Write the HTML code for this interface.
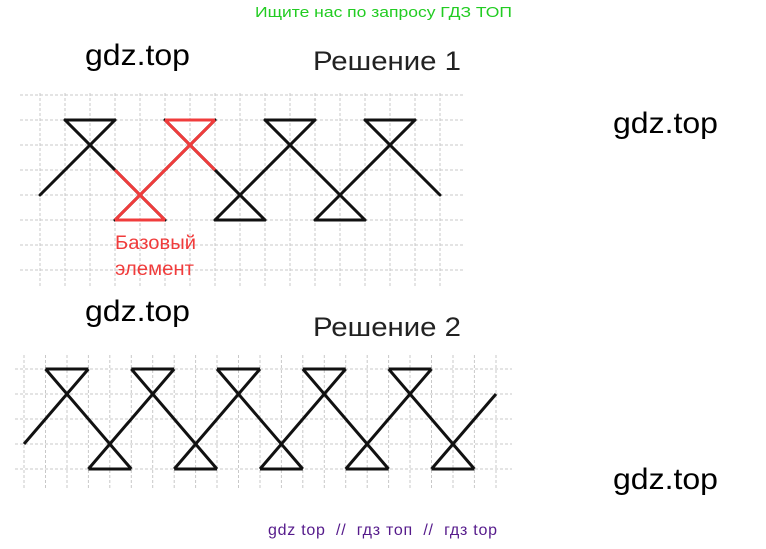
<!DOCTYPE html><html><head><meta charset="utf-8"><style>
body{margin:0;width:766px;height:544px;background:#fff;overflow:hidden}
</style></head><body>
<svg width="766" height="544" xmlns="http://www.w3.org/2000/svg" font-family="Liberation Sans, DejaVu Sans, sans-serif">
<text x="255" y="17" font-size="15" fill="#22cc22" textLength="257" lengthAdjust="spacingAndGlyphs">Ищите нас по запросу ГДЗ ТОП</text>
<text x="85" y="65" font-size="30" fill="#000" textLength="105" lengthAdjust="spacingAndGlyphs">gdz.top</text>
<text x="313" y="70" font-size="27" fill="#222" textLength="148" lengthAdjust="spacingAndGlyphs">Решение 1</text>
<text x="613" y="133" font-size="30" fill="#000" textLength="105" lengthAdjust="spacingAndGlyphs">gdz.top</text>
<text x="85" y="321" font-size="30" fill="#000" textLength="105" lengthAdjust="spacingAndGlyphs">gdz.top</text>
<text x="313" y="336" font-size="27" fill="#222" textLength="148" lengthAdjust="spacingAndGlyphs">Решение 2</text>
<text x="613" y="489" font-size="30" fill="#000" textLength="105" lengthAdjust="spacingAndGlyphs">gdz.top</text>
<text x="268" y="535" font-size="16" fill="#551a8b" textLength="229" lengthAdjust="spacing" xml:space="preserve">gdz top  //  гдз топ  //  гдз top</text>
<g stroke="#c8c8c8" stroke-width="1" stroke-dasharray="3,2">
<path d="M20 95H463M20 120H463M20 145H463M20 170H463M20 195H463M20 220H463M20 245H463M20 270H463"/>
<path d="M40 93V288M65 93V288M90 93V288M115 93V288M140 93V288M165 93V288M190 93V288M215 93V288M240 93V288M265 93V288M290 93V288M315 93V288M340 93V288M365 93V288M390 93V288M415 93V288M440 93V288"/>
<path d="M15 369H512M15 394H512M15 419H512M15 444H512M15 469H512"/>
<path d="M24 355V490M45.5 355V490M67 355V490M88.4 355V490M109.8 355V490M131.3 355V490M152.7 355V490M174.2 355V490M195.6 355V490M217 355V490M238.5 355V490M260 355V490M281.4 355V490M302.8 355V490M324.3 355V490M345.7 355V490M367.2 355V490M388.6 355V490M410 355V490M431.5 355V490M453 355V490M474.4 355V490M496 355V490"/>
</g>
<g stroke="#111" stroke-width="3" fill="none" stroke-linecap="round">
<path d="M40 195L115 120M65 120L165 220M115 220L215 120M165 120L265 220M215 220L315 120M265 120L365 220M315 220L415 120M365 120L440 195"/>
<path d="M65 120H115M165 120H215M265 120H315M365 120H415M115 220H165M215 220H265M315 220H365"/>
</g>
<g stroke="#f03c3c" stroke-width="3" fill="none">
<path d="M115 170L165 220M115 220L215 120M165 120L215 170M165 120H215M115 220H165"/>
</g>
<text x="115" y="249" font-size="19" fill="#f03c3c" textLength="81" lengthAdjust="spacingAndGlyphs">Базовый</text>
<text x="115" y="275" font-size="19" fill="#f03c3c" textLength="79" lengthAdjust="spacingAndGlyphs">элемент</text>
<g stroke="#111" stroke-width="3" fill="none">
<path d="M24 444L88.4 369M45.5 369L131.3 469M88.4 469L174.2 369M131.3 369L217 469M174.2 469L260 369M217 369L302.8 469M260 469L345.7 369M302.8 369L388.6 469M345.7 469L431.5 369M388.6 369L474.4 469M431.5 469L496 394"/>
<path d="M45.5 369H88.4M131.3 369H174.2M217 369H260M302.8 369H345.7M388.6 369H431.5M88.4 469H131.3M174.2 469H217M260 469H302.8M345.7 469H388.6M431.5 469H474.4"/>
</g>
</svg>
</body></html>
